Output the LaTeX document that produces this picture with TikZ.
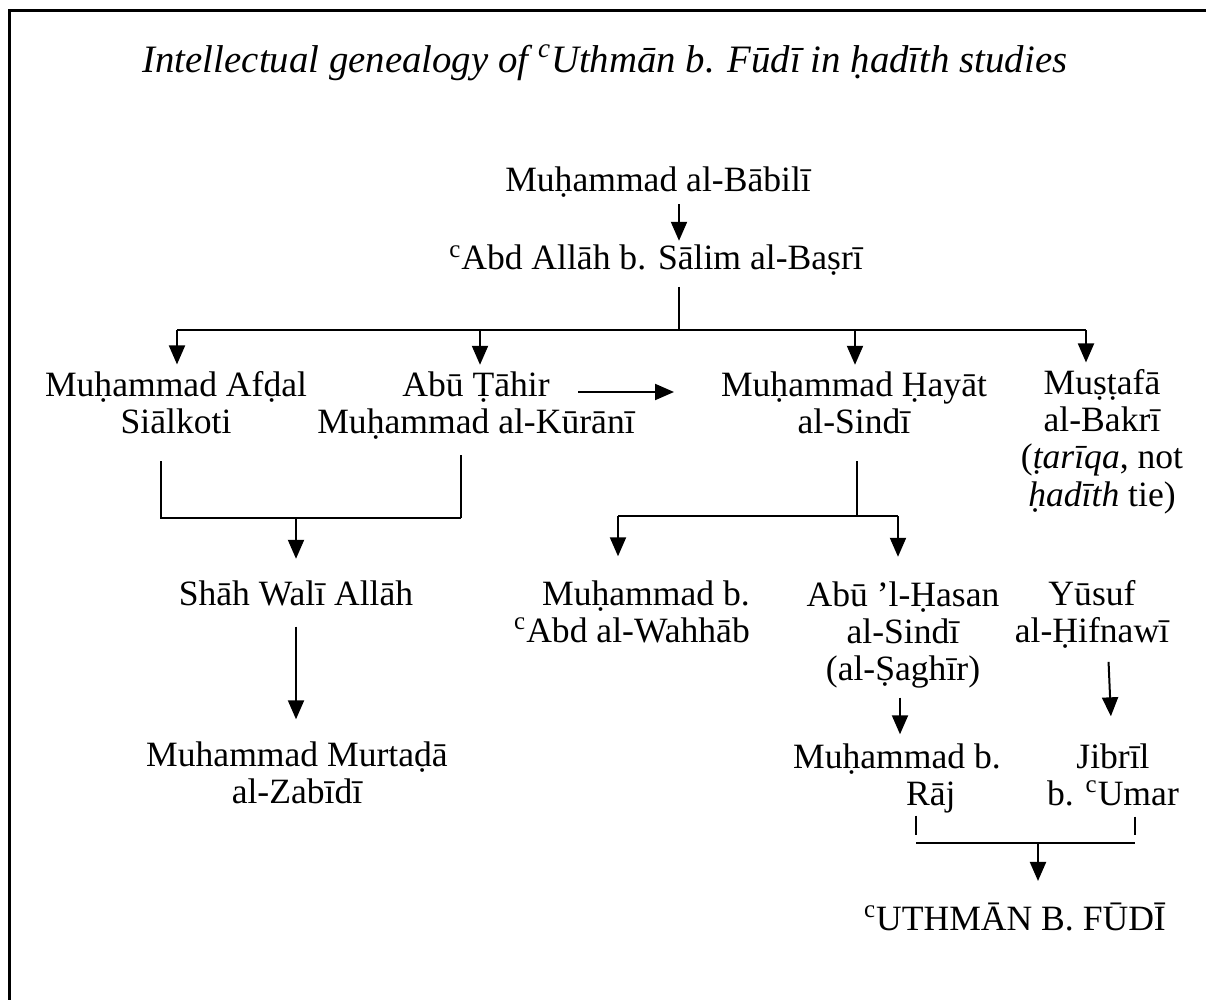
\documentclass[tikz,border=0pt]{standalone}
\usepackage{fontspec}
\setmainfont{Liberation Serif}
\usetikzlibrary{arrows.meta,positioning}
\tikzset{
  gen/.style={x=0.5pt,y=-0.5pt,line width=1pt,>={Triangle[length=9.5pt,width=8pt]}},
  scholar/.style={font=\fontsize{17.8}{18.5}\selectfont,align=center,inner sep=0pt,anchor=base},
  heading/.style={font=\fontsize{19.4}{23}\selectfont\itshape,inner sep=0pt,anchor=base},
}

\begin{document}
\begin{tikzpicture}[gen]
  \useasboundingbox (0,0) rectangle (1206,1000);
  \draw[line width=1.75pt] (1206,10.5) -- (9.5,10.5) -- (9.5,1000);
  \node[heading] (title) at (605,73) {Intellectual genealogy of \textsuperscript{c}Uthmān b. Fūdī in ḥadīth studies};

  % chain from al-Babili
  \node[scholar] (babili) at (658,192) {Muḥammad al-Bābilī};
  \node[scholar] (basri) at (656,270) {\textsuperscript{c}Abd Allāh b. Sālim al-Baṣrī};
  \coordinate (c0) at (679,330);
  \draw[->,shorten <=2.6pt,shorten >=1.75pt] (babili.south -| c0) -- (basri.north -| c0);

  % students of al-Basri
  \node[scholar] (afdal) at (176,434) {Muḥammad Afḍal\\Siālkoti};
  \node[scholar] (tahir) at (476,434) {Abū Ṭāhir\\Muḥammad al-Kūrānī};
  \node[scholar] (hayat) at (854,434) {Muḥammad Ḥayāt\\al-Sindī};
  \node[scholar] (mustafa) at (1102,506) {Muṣṭafā\\al-Bakrī\\(\textit{ṭarīqa}, not\\\textit{ḥadīth} tie)};
  \coordinate (d1) at (177,330);
  \coordinate (d2) at (480,330);
  \coordinate (d3) at (855,330);
  \coordinate (d4) at (1086,330);
  \draw[shorten <=5pt] (basri.south -| c0) -- (c0);
  \draw (d1) -- (d4);
  \foreach \d/\s in {d1/afdal,d2/tahir,d3/hayat,d4/mustafa}
    \draw[->,shorten >=3.25pt] (\d) -- (\d |- \s.north);
  \coordinate (ta) at (578,392);
  \draw[->,shorten >=23pt] (ta) -- (ta -| hayat.west);

  % Shah Wali Allah
  \node[scholar] (shah) at (296,605) {Shāh Walī Allāh};
  \node[scholar] (murtada) at (297,803) {Muhammad Murtaḍā\\al-Zabīdī};
  \coordinate (b1) at (161,518);
  \coordinate (b2) at (461,518);
  \coordinate (b0) at (296,518);
  \draw[shorten <=13pt] (afdal.south -| b1) -- (b1) -- (b2);
  \draw[shorten >=7pt] (b2) -- (tahir.south -| b2);
  \draw[->,shorten >=10.25pt] (b0) -- (b0 |- shah.north);
  \draw[->,shorten <=10pt,shorten >=10.5pt] (shah.south -| b0) -- (murtada.north -| b0);

  % students of Hayat al-Sindi
  \node[scholar,align=right] (wahhab) at (632,642) {Muḥammad b.\\\textsuperscript{c}Abd al-Wahhāb};
  \node[scholar] (saghir) at (903,680) {Abū ’l-Ḥasan\\al-Sindī\\(al-Ṣaghīr)};
  \node[scholar] (hifnawi) at (1092,642) {Yūsuf\\al-Ḥifnawī};
  \coordinate (e0) at (857,516);
  \coordinate (e1) at (618,516);
  \coordinate (e2) at (898,516);
  \draw[shorten <=13pt] (hayat.south -| e0) -- (e0);
  \draw (e1) -- (e2);
  \draw[->,shorten >=11.5pt] (e1) -- (e1 |- wahhab.north);
  \draw[->,shorten >=11.75pt] (e2) -- (e2 |- saghir.north);

  % teachers of Uthman
  \node[scholar] (raj) at (897,805) {Muḥammad b.\\\hspace*{1.9em}Rāj};
  \node[scholar] (jibril) at (1113,805) {Jibrīl\\b. \textsuperscript{c}Umar};
  \node[scholar] (fudi) at (1015,930) {\textsuperscript{c}UTHMĀN B. FŪDĪ};
  \coordinate (s1) at (900,0);
  \coordinate (h1) at (1108,0);
  \coordinate (h2) at (1112,0);
  \draw[->,shorten <=4.5pt,shorten >=4pt] (saghir.south -| s1) -- (raj.north -| s1);
  \draw[->,shorten <=6.5pt,shorten >=13pt] (hifnawi.south -| h1) -- (jibril.north -| h2);
  \coordinate (k1) at (916,835);
  \coordinate (k2) at (1135,835);
  \coordinate (m1) at (916,843);
  \coordinate (m2) at (1135,843);
  \coordinate (m0) at (1038,843);
  \draw[shorten <=1pt] (raj.south -| k1) -- (k1);
  \draw[shorten <=5pt] (jibril.south -| k2) -- (k2);
  \draw (m1) -- (m2);
  \draw[->,shorten >=10.25pt] (m0) -- (m0 |- fudi.north);
\end{tikzpicture}
\end{document}
